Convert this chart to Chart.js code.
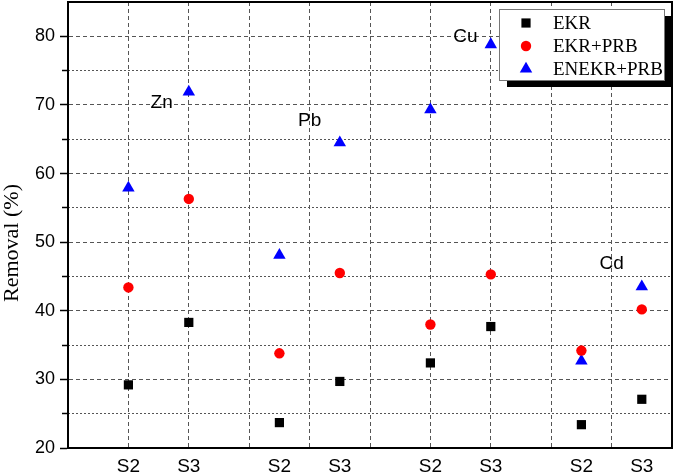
<!DOCTYPE html>
<html>
<head>
<meta charset="utf-8">
<script src="https://cdn.jsdelivr.net/npm/chart.js@4.4.0/dist/chart.umd.min.js"></script>
<style>
    html, body { margin: 0; padding: 0; background: #fff; }
    #wrap { width: 675px; height: 476px; }
</style>
</head>
<body>
<div id="wrap"><canvas id="chart-removal"></canvas></div>
<script>
// positions of the samples on the x axis and their tick labels
const xPos = [1, 2, 3.5, 4.5, 6, 7, 8.5, 9.5];
const xLabels = ["S2", "S3", "S2", "S3", "S2", "S3", "S2", "S3"];
const xGrid = [1, 2, 3, 4, 5, 6, 7, 8, 9];

// removal (%) per series
const ekr = [29.2, 38.3, 23.7, 29.7, 32.4, 37.7, 23.4, 27.1];
const ekrPrb = [43.4, 56.3, 33.8, 45.5, 38.0, 45.3, 34.2, 40.2];
const enekrPrb = [57.9, 71.9, 48.1, 64.5, 69.3, 78.8, 32.7, 43.5];

// y ticks
const yMajor = [20, 30, 40, 50, 60, 70, 80];
const yMinor = [25, 35, 45, 55, 65, 75];

// metal labels placed in data coordinates
const metals = ["Zn", "Pb", "Cu", "Cd"];
const metalX = [1.55, 4.0, 6.58, 9.0];
const metalY = [70.3, 67.7, 80.0, 46.8];

const toPoints = (arr) => arr.map((v, i) => ({ x: xPos[i], y: v }));

const noPad = (scale) => {
    scale.paddingTop = 0;
    scale.paddingBottom = 0;
    scale.paddingLeft = 0;
    scale.paddingRight = 0;
};

const framePlugin = {
    id: "frame",
    afterDraw(chart) {
        const ctx = chart.ctx;
        const a = chart.chartArea;
        const sx = chart.scales.x;
        const sy = chart.scales.y;
        ctx.save();
        ctx.strokeStyle = "#000";
        ctx.lineWidth = 2;
        ctx.strokeRect(a.left, a.top, a.right - a.left, a.bottom - a.top);

        // metal names
        ctx.fillStyle = "#000";
        ctx.font = '19px "Liberation Sans", Arial, sans-serif';
        ctx.textAlign = "center";
        ctx.textBaseline = "middle";
        metals.forEach((m, i) => {
            ctx.fillText(m, sx.getPixelForValue(metalX[i]), sy.getPixelForValue(metalY[i]));
        });

        // y title
        ctx.save();
        ctx.translate(12, 243);
        ctx.rotate(-Math.PI / 2);
        ctx.font = '22px "Liberation Serif", "Times New Roman", serif';
        ctx.fillText("Removal (%)", 0, 0);
        ctx.restore();

        // legend box with shadow
        const bx = 499, by = 9, bw = 165, bh = 71;
        ctx.fillStyle = "#000";
        ctx.fillRect(bx + 8, by + 7, bw, bh);
        ctx.fillStyle = "#fff";
        ctx.fillRect(bx, by, bw, bh);
        ctx.strokeStyle = "#777";
        ctx.lineWidth = 1;
        ctx.strokeRect(bx + 0.5, by + 0.5, bw, bh);
        ctx.textAlign = "left";
        ctx.font = '19px "Liberation Serif", "Times New Roman", serif';
        chart.data.datasets.forEach((ds, i) => {
            const ly = 23 + i * 23;
            ctx.fillStyle = ds.backgroundColor;
            ctx.strokeStyle = ds.backgroundColor;
            Chart.helpers.drawPoint(
                ctx,
                { pointStyle: ds.pointStyle, radius: ds.pointRadius, rotation: 0, borderWidth: 0 },
                526,
                ly
            );
            ctx.fillStyle = "#000";
            ctx.fillText(ds.label, 553, ly + 1);
        });
        ctx.restore();
    },
};

new Chart(document.getElementById("chart-removal"), {
    type: "scatter",
    data: {
        datasets: [
            {
                label: "EKR",
                data: toPoints(ekr),
                pointStyle: "rect",
                pointRadius: 6.5,
                backgroundColor: "#000",
                borderColor: "#000",
                borderWidth: 0,
            },
            {
                label: "EKR+PRB",
                data: toPoints(ekrPrb),
                pointStyle: "circle",
                pointRadius: 5.2,
                backgroundColor: "#ff0000",
                borderColor: "#ff0000",
                borderWidth: 0,
            },
            {
                label: "ENEKR+PRB",
                data: toPoints(enekrPrb),
                pointStyle: "triangle",
                pointRadius: 7.2,
                backgroundColor: "#0000ff",
                borderColor: "#0000ff",
                borderWidth: 0,
            },
        ],
    },
    options: {
        responsive: true,
        maintainAspectRatio: false,
        animation: false,
        events: [],
        layout: { autoPadding: false, padding: { top: 2, right: 3, left: 0, bottom: 0 } },
        plugins: {
            legend: { display: false },
            tooltip: { enabled: false },
        },
        scales: {
            x: {
                type: "linear",
                min: 0,
                max: 10,
                afterBuildTicks: (scale) => {
                    const vals = [...new Set([...xGrid, ...xPos])].sort((a, b) => a - b);
                    scale.ticks = vals.map((v) => ({ value: v }));
                },
                afterFit: (scale) => {
                    scale.height = 28;
                    noPad(scale);
                },
                ticks: {
                    autoSkip: false,
                    maxRotation: 0,
                    padding: 7,
                    color: "#000",
                    font: { family: '"Liberation Sans", Arial, sans-serif', size: 19 },
                    callback: (v) => {
                        const i = xPos.indexOf(v);
                        return i >= 0 ? xLabels[i] : "";
                    },
                },
                grid: {
                    drawTicks: false,
                    color: (ctx) =>
                        ctx.tick && xGrid.includes(ctx.tick.value) ? "#555" : "rgba(0,0,0,0)",
                    lineWidth: 1,
                },
                border: { display: true, color: "#000", width: 2, dash: [4, 3] },
            },
            y: {
                min: 20,
                max: 85,
                weight: 1,
                afterBuildTicks: (scale) => {
                    scale.ticks = yMajor.map((v) => ({ value: v }));
                },
                afterFit: (scale) => {
                    scale.width = 68;
                    noPad(scale);
                },
                ticks: {
                    padding: 5,
                    color: "#000",
                    font: { family: '"Liberation Sans", Arial, sans-serif', size: 18 },
                },
                grid: {
                    color: "#555",
                    lineWidth: 1,
                    tickLength: 8,
                    tickColor: "#000",
                    tickWidth: 1.5,
                },
                border: { display: true, color: "#000", width: 2, dash: [4, 3] },
            },
            yMinor: {
                position: "left",
                min: 20,
                max: 85,
                weight: 0,
                afterBuildTicks: (scale) => {
                    scale.ticks = yMinor.map((v) => ({ value: v }));
                },
                afterFit: (scale) => {
                    scale.width = 0;
                    noPad(scale);
                },
                ticks: { display: false },
                grid: {
                    color: "#555",
                    lineWidth: 1,
                    tickLength: 6,
                    tickColor: "#000",
                    tickWidth: 1.5,
                },
                border: { display: false, dash: [2, 2] },
            },
        },
    },
    plugins: [framePlugin],
});
</script>
</body>
</html>
